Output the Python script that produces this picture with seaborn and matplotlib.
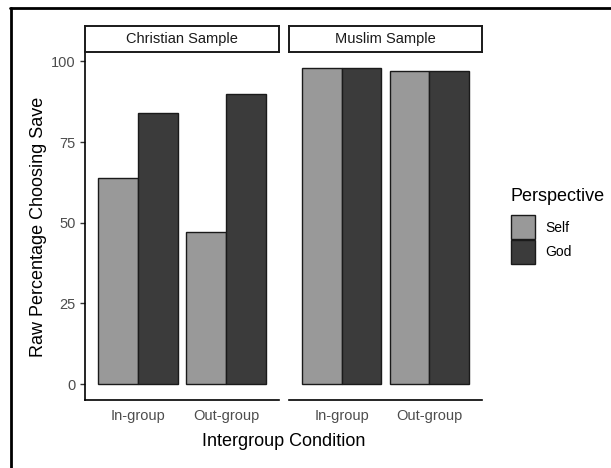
import matplotlib
matplotlib.use("Agg")
import matplotlib.pyplot as plt
import seaborn as sns
import pandas as pd
from matplotlib.patches import Rectangle
from matplotlib.lines import Line2D

# ---- data ----
samples = ["Christian Sample", "Muslim Sample"]
conditions = ["In-group", "Out-group"]
perspectives = ["Self", "God"]
christian_self = [64, 47]
christian_god = [84, 90]
muslim_self = [98, 97]
muslim_god = [98, 97]
y_ticks = [0, 25, 50, 75, 100]

rows = []
for s, selfv, godv in [(samples[0], christian_self, christian_god),
                       (samples[1], muslim_self, muslim_god)]:
    for c, a, b in zip(conditions, selfv, godv):
        rows.append(dict(Sample=s, Condition=c, Perspective="Self", Value=a))
        rows.append(dict(Sample=s, Condition=c, Perspective="God", Value=b))
df = pd.DataFrame(rows)

sns.set_style("white")
plt.rcParams['font.family'] = ['Liberation Sans', 'DejaVu Sans']

W, H = 611, 468
fig = plt.figure(figsize=(W / 100, H / 100), dpi=100)

palette = {"Self": "#999999", "God": "#3b3b3b"}

def fx(px):
    return px / W

def fy(py):
    return 1 - py / H

panels = [(85, 279), (289, 482)]
top_px, bot_px = 52, 400
ymin, ymax = -4.9, 102.9

for i, (s, (x0, x1)) in enumerate(zip(samples, panels)):
    ax = fig.add_axes([fx(x0), fy(bot_px), fx(x1 - x0), (bot_px - top_px) / H])
    sub = df[df.Sample == s]
    sns.barplot(data=sub, x="Condition", y="Value", hue="Perspective",
                order=conditions, hue_order=perspectives, palette=palette,
                width=0.9, gap=0, edgecolor="#1a1a1a", linewidth=1.0,
                errorbar=None, saturation=1, legend=False, ax=ax)
    ax.set_xlim(-0.6, 1.6)
    ax.set_ylim(ymin, ymax)
    ax.set_xlabel("")
    ax.set_ylabel("")
    for sp in ["top", "right"]:
        ax.spines[sp].set_visible(False)
    ax.spines["bottom"].set_color("black")
    ax.spines["bottom"].set_linewidth(1.2)
    ax.tick_params(axis="x", length=3.5, width=1.0, color="#333333",
                   labelsize=10.5, labelcolor="#4d4d4d", pad=3)
    if i == 0:
        ax.spines["left"].set_color("black")
        ax.spines["left"].set_linewidth(1.2)
        ax.set_yticks(y_ticks)
        ax.tick_params(axis="y", length=3.5, width=1.0, color="#333333",
                       labelsize=10.5, labelcolor="#4d4d4d", pad=3, left=True)
    else:
        ax.spines["left"].set_visible(False)
        ax.set_yticks([])
    ax.set_facecolor("white")

    # strip
    sax = fig.add_axes([fx(x0), fy(top_px), fx(x1 - x0), (top_px - 26) / H])
    sax.set_xlim(0, 1)
    sax.set_ylim(0, 1)
    sax.set_xticks([])
    sax.set_yticks([])
    for sp in sax.spines.values():
        sp.set_color("#1a1a1a")
        sp.set_linewidth(1.4)
    sax.text(0.5, 0.5, s, ha="center", va="center", fontsize=10.5,
             color="#1a1a1a")

# axis titles
fig.text(fx((85 + 482) / 2), fy(441), "Intergroup Condition", ha="center",
         va="center", fontsize=13, color="black")
fig.text(fx(39), fy(227), "Raw Percentage Choosing Save", ha="center",
         va="center", rotation=90, fontsize=13, color="black")

# legend
fig.text(fx(510), fy(196), "Perspective", ha="left", va="center",
         fontsize=13, color="black")
for j, p in enumerate(perspectives):
    ky = 215 + j * 24.5
    fig.patches.append(Rectangle((fx(511), fy(ky + 24.5)), fx(24), 24.5 / H,
                                 transform=fig.transFigure,
                                 facecolor=palette[p], edgecolor="#1a1a1a",
                                 linewidth=1.0))
    fig.text(fx(545), fy(ky + 12.5), p, ha="left", va="center",
             fontsize=10, color="black")

# image frame
fig.lines.append(Line2D([fx(11), fx(11)], [0, fy(7.5)],
                        transform=fig.transFigure, color="black", lw=2))
fig.lines.append(Line2D([fx(10), 1], [fy(7.5), fy(7.5)],
                        transform=fig.transFigure, color="black", lw=2))

fig.savefig("out.png", dpi=100, facecolor="white")
